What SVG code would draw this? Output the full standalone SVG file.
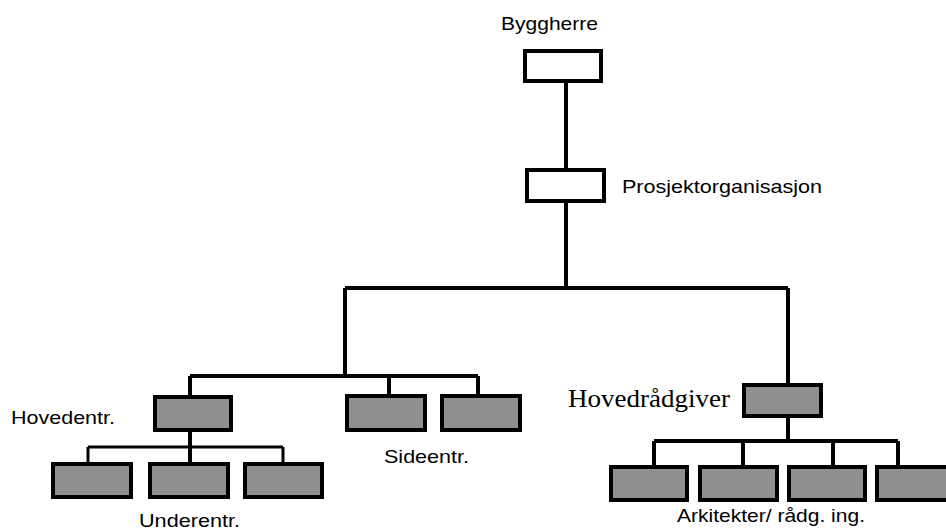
<svg xmlns="http://www.w3.org/2000/svg" width="946" height="530" viewBox="0 0 946 530">
<style>
.box{stroke:#000;stroke-width:4}
.w{fill:#fff}
.g{fill:#8f8f8f}
.c{fill:none;stroke:#000;stroke-width:4}
.thin{stroke-width:3}
.t{font-family:"Liberation Sans",Arial,sans-serif;font-size:19px;fill:#000}
.s{font-family:"Liberation Serif","Times New Roman",serif;font-size:25px;fill:#000}
</style>
<rect width="946" height="530" fill="#fff"/>
<g id="connectors">
<path class="c" d="M566 83V170M566 201V288M345 288H788M345 288V376M788 288V385M190 376H478M190 376V397M389 376V396M478 376V396M190 430V466M788 416V441M654 441H898M654 441V467M743 441V467M833 441V467M898 441V467"/>
<path class="c thin" d="M88 447H283M88 447V464M283 447V464"/>
</g>
<g id="byggherre"><rect class="box w" x="525" y="51" width="76" height="30"/><text class="t" x="501" y="30" textLength="97" lengthAdjust="spacingAndGlyphs">Byggherre</text></g>
<g id="prosjektorganisasjon"><rect class="box w" x="527" y="170" width="77" height="31"/><text class="t" x="622" y="193" textLength="200" lengthAdjust="spacingAndGlyphs">Prosjektorganisasjon</text></g>
<g id="hovedentr"><rect class="box g" x="155" y="397" width="76" height="33"/><text class="t" x="11" y="424" textLength="104" lengthAdjust="spacingAndGlyphs">Hovedentr.</text></g>
<g id="sideentr1"><rect class="box g" x="347" y="396" width="78" height="34"/></g>
<g id="sideentr2"><rect class="box g" x="442" y="396" width="78" height="34"/></g>
<text class="t" x="384" y="463" textLength="85" lengthAdjust="spacingAndGlyphs">Sideentr.</text>
<g id="underentr1"><rect class="box g" x="53" y="464" width="78" height="33"/></g>
<g id="underentr2"><rect class="box g" x="150" y="464" width="78" height="33"/></g>
<g id="underentr3"><rect class="box g" x="245" y="464" width="77" height="33"/></g>
<text class="t" x="139" y="527" textLength="101" lengthAdjust="spacingAndGlyphs">Underentr.</text>
<g id="hovedradgiver"><rect class="box g" x="744" y="385" width="77" height="31"/><text class="s" x="568" y="407" textLength="162" lengthAdjust="spacingAndGlyphs">Hovedrådgiver</text></g>
<g id="ark1"><rect class="box g" x="611" y="467" width="76" height="33"/></g>
<g id="ark2"><rect class="box g" x="700" y="467" width="77" height="33"/></g>
<g id="ark3"><rect class="box g" x="789" y="467" width="76" height="33"/></g>
<g id="ark4"><rect class="box g" x="877" y="467" width="78" height="33"/></g>
<text class="t" x="677" y="522" textLength="188" lengthAdjust="spacingAndGlyphs">Arkitekter/ rådg. ing.</text>
</svg>
